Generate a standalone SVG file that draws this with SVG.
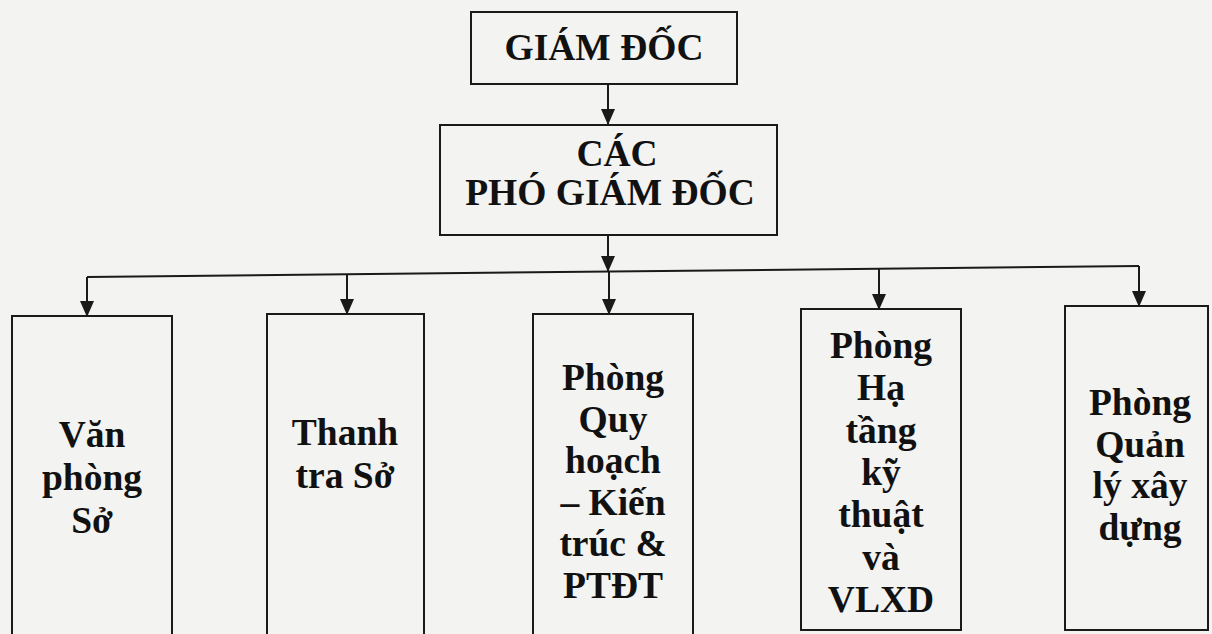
<svg xmlns="http://www.w3.org/2000/svg" width="1212" height="634" viewBox="0 0 1212 634">
<style>
.box{fill:none;stroke:#1a1a1a;stroke-width:2}
.conn{fill:none;stroke:#1a1a1a;stroke-width:2}
text{font-family:"Liberation Serif","Times New Roman",serif;font-weight:bold;font-size:37.5px;fill:#111;text-anchor:middle}
</style>
<defs>
<marker id="ad" markerUnits="userSpaceOnUse" markerWidth="16" markerHeight="14" refX="15" refY="7" orient="auto" viewBox="0 0 16 14">
<path d="M0,0 L16,7 L0,14 Z" fill="#1a1a1a"/>
</marker>
</defs>
<rect width="1212" height="634" fill="#f3f3f1"/>
<g id="connectors">
<line class="conn" x1="608" y1="84" x2="608" y2="124" marker-end="url(#ad)"/>
<line class="conn" x1="608" y1="235" x2="608" y2="271" marker-end="url(#ad)"/>
<line class="conn" x1="87" y1="277" x2="1139" y2="266"/>
<line class="conn" x1="87" y1="277" x2="87" y2="316" marker-end="url(#ad)"/>
<line class="conn" x1="347" y1="274" x2="347" y2="314" marker-end="url(#ad)"/>
<line class="conn" x1="609" y1="271" x2="609" y2="314" marker-end="url(#ad)"/>
<line class="conn" x1="879" y1="268" x2="879" y2="309" marker-end="url(#ad)"/>
<line class="conn" x1="1139" y1="266" x2="1139" y2="306" marker-end="url(#ad)"/>
</g>
<g id="giam-doc">
<rect class="box" x="471" y="12" width="266" height="72"/>
<text x="604" y="60">GIÁM ĐỐC</text>
</g>
<g id="pho-giam-doc">
<rect class="box" x="440" y="125" width="337" height="110"/>
<text x="617" y="166">CÁC</text>
<text x="610" y="205">PHÓ GIÁM ĐỐC</text>
</g>
<g id="van-phong">
<rect class="box" x="12" y="316" width="160" height="330"/>
<text x="92" y="447">Văn</text>
<text x="92" y="490">phòng</text>
<text x="92" y="533">Sở</text>
</g>
<g id="thanh-tra">
<rect class="box" x="267" y="314" width="157" height="330"/>
<text x="345" y="445">Thanh</text>
<text x="345" y="488">tra Sở</text>
</g>
<g id="quy-hoach">
<rect class="box" x="533" y="314" width="160" height="330"/>
<text x="613" y="390">Phòng</text>
<text x="613" y="432">Quy</text>
<text x="613" y="473">hoạch</text>
<text x="613" y="515">– Kiến</text>
<text x="613" y="556">trúc &amp;</text>
<text x="613" y="598">PTĐT</text>
</g>
<g id="ha-tang">
<rect class="box" x="801" y="309" width="160" height="321"/>
<text x="881" y="358">Phòng</text>
<text x="881" y="400">Hạ</text>
<text x="881" y="443">tầng</text>
<text x="881" y="485">kỹ</text>
<text x="881" y="527">thuật</text>
<text x="881" y="570">và</text>
<text x="881" y="612">VLXD</text>
</g>
<g id="quan-ly">
<rect class="box" x="1065" y="306" width="143" height="324"/>
<text x="1140" y="415">Phòng</text>
<text x="1140" y="457">Quản</text>
<text x="1140" y="498">lý xây</text>
<text x="1140" y="540">dựng</text>
</g>
</svg>
